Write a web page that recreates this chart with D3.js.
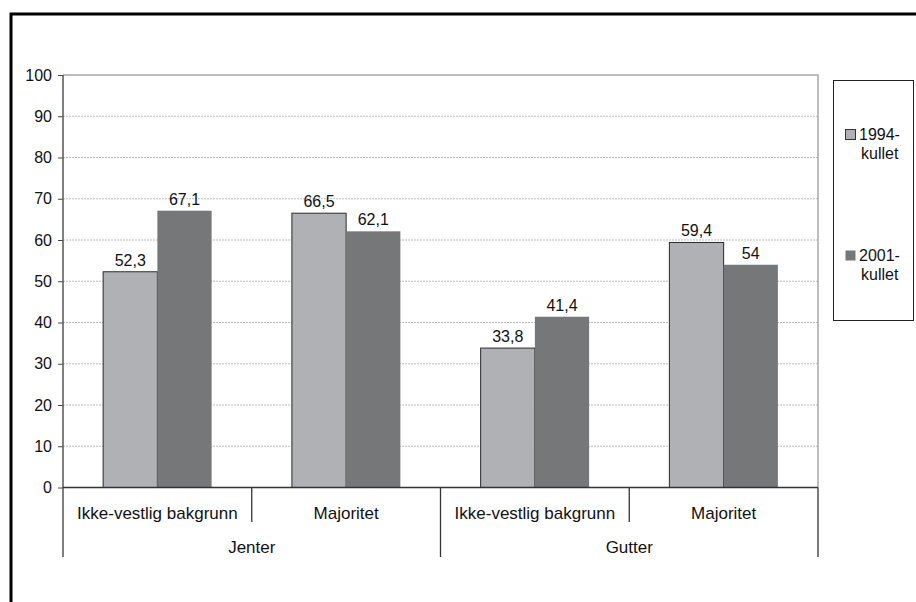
<!DOCTYPE html>
<html>
<head>
<meta charset="utf-8">
<script src="https://cdn.jsdelivr.net/npm/d3@7"></script>
<style>
  html, body { margin: 0; padding: 0; background: #fff; }
  svg { display: block; font-family: "Liberation Sans", Arial, sans-serif; }
</style>
</head>
<body>
<svg id="chart" width="916" height="602"></svg>
<script>
// ---- data ----
const groups = ["Jenter", "Gutter"];
const subcategories = ["Ikke-vestlig bakgrunn", "Majoritet"];
const categories = ["Jenter|Ikke-vestlig bakgrunn", "Jenter|Majoritet", "Gutter|Ikke-vestlig bakgrunn", "Gutter|Majoritet"];
const seriesNames = ["1994-kullet", "2001-kullet"];
const values1994 = [52.3, 66.5, 33.8, 59.4];
const values2001 = [67.1, 62.1, 41.4, 54];
const yTicks = [0, 10, 20, 30, 40, 50, 60, 70, 80, 90, 100];
const colors = ["#b0b1b5", "#767779"];

const svg = d3.select("#chart");

// outer frame (clipped at right & bottom)
svg.append("path")
  .attr("d", "M11,602 L11,14 L916,14")
  .attr("fill", "none").attr("stroke", "#000").attr("stroke-width", 3);

const plot = { left: 63, right: 818, top: 75, bottom: 487.5 };

const x0 = d3.scaleBand().domain(categories).range([plot.left, plot.right]).paddingInner(0).paddingOuter(0);
const x1 = d3.scaleBand().domain(seriesNames).range([0, x0.bandwidth()]).paddingOuter(0.74).paddingInner(0);
const y = d3.scaleLinear().domain([0, 100]).range([plot.bottom, plot.top]);

const g = svg.append("g");

// gridlines
g.selectAll("line.grid").data(yTicks.filter(d => d > 0 && d < 100)).enter().append("line")
  .attr("x1", plot.left).attr("x2", plot.right)
  .attr("y1", d => y(d)).attr("y2", d => y(d))
  .attr("stroke", "#bcbcbc").attr("stroke-width", 1).attr("stroke-dasharray", "2,1");

// plot border (top/right)
g.append("path")
  .attr("d", `M${plot.left},${y(100)} L${plot.right},${y(100)} L${plot.right},${plot.bottom}`)
  .attr("fill", "none").attr("stroke", "#a8a8a8").attr("stroke-width", 1.5);

// bars
const data = categories.map((c, i) => ({ cat: c, vals: [values1994[i], values2001[i]] }));
const cg = g.selectAll("g.cat").data(data).enter().append("g")
  .attr("transform", d => `translate(${x0(d.cat)},0)`);

cg.selectAll("rect").data(d => d.vals.map((v, j) => ({ v, s: seriesNames[j], j }))).enter().append("rect")
  .attr("x", d => x1(d.s))
  .attr("y", d => y(d.v))
  .attr("width", x1.bandwidth())
  .attr("height", d => y(0) - y(d.v))
  .attr("fill", d => colors[d.j])
  .attr("stroke", d => d.j === 0 ? "#2a2a2a" : "none")
  .attr("stroke-width", 1);

cg.selectAll("text.val").data(d => d.vals.map((v, j) => ({ v, s: seriesNames[j], j }))).enter().append("text")
  .attr("x", d => x1(d.s) + x1.bandwidth() / 2)
  .attr("y", d => y(d.v) - 6)
  .attr("text-anchor", "middle")
  .attr("font-size", 16).attr("fill", "#111")
  .text(d => String(d.v).replace(".", ","));

// y axis
const yAxis = d3.axisLeft(y).tickValues(yTicks).tickSize(5).tickPadding(6);
const ya = svg.append("g").attr("transform", `translate(${plot.left},0)`).call(yAxis);
ya.select(".domain").remove();
ya.selectAll(".tick line").attr("stroke", "#444");
ya.selectAll(".tick text").attr("font-size", 16).attr("fill", "#111").attr("font-family", "Liberation Sans, Arial, sans-serif");
svg.append("line").attr("x1", plot.left).attr("x2", plot.left).attr("y1", plot.top).attr("y2", 557)
  .attr("stroke", "#555").attr("stroke-width", 1.5);

// x axis line
svg.append("line").attr("x1", plot.left).attr("x2", plot.right).attr("y1", plot.bottom).attr("y2", plot.bottom)
  .attr("stroke", "#333").attr("stroke-width", 1.5);

// category separators and labels
const boundaries = categories.map(c => x0(c)).concat([plot.right]);
boundaries.forEach((bx, i) => {
  const long = (i % 2 === 0);
  if (i === 0) return;
  svg.append("line").attr("x1", bx).attr("x2", bx).attr("y1", plot.bottom).attr("y2", long ? 557 : 522)
    .attr("stroke", "#333").attr("stroke-width", 1.3);
});
categories.forEach(c => {
  svg.append("text")
    .attr("x", x0(c) + x0.bandwidth() / 2).attr("y", 519)
    .attr("text-anchor", "middle").attr("font-size", 17).attr("fill", "#111")
    .text(c.split("|")[1]);
});
groups.forEach((grp, i) => {
  const cs = categories.filter(c => c.startsWith(grp + "|"));
  const gx = (x0(cs[0]) + x0(cs[cs.length - 1]) + x0.bandwidth()) / 2;
  svg.append("text").attr("x", gx).attr("y", 553)
    .attr("text-anchor", "middle").attr("font-size", 17).attr("fill", "#111").text(grp);
});

// legend
const lg = svg.append("g");
lg.append("rect").attr("x", 833.5).attr("y", 80.5).attr("width", 80).attr("height", 240)
  .attr("fill", "#fff").attr("stroke", "#222").attr("stroke-width", 1);
const legendY = [129, 250];
seriesNames.forEach((s, i) => {
  lg.append("rect").attr("x", 845.5).attr("y", legendY[i] + 0.5).attr("width", 10).attr("height", 10)
    .attr("fill", colors[i]).attr("stroke", i === 0 ? "#333" : "none");
  const parts = s.split("-");
  const t = lg.append("text").attr("font-size", 16).attr("fill", "#111");
  t.append("tspan").attr("x", 859).attr("y", legendY[i] + 11).text(parts[0] + "-");
  t.append("tspan").attr("x", 861).attr("y", legendY[i] + 30).text(parts[1]);
});
</script>
</body>
</html>
